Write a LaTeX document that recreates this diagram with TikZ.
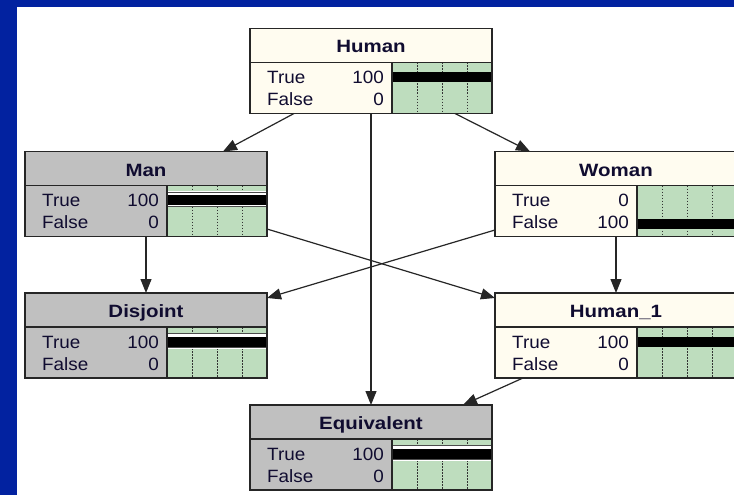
\documentclass[tikz,border=0pt]{standalone}
\usepackage{fontspec}
\setmainfont{Liberation Sans}
\newfontfamily\rowfont[FakeStretch=1.06]{Liberation Sans}
\newfontfamily\headfont[FakeStretch=1.15]{Liberation Sans}
\usetikzlibrary{arrows.meta}

\definecolor{slideblue}{RGB}{2,34,160}
\definecolor{cream}{RGB}{255,252,240}
\definecolor{nodegray}{RGB}{192,192,192}
\definecolor{beliefgreen}{RGB}{190,221,190}
\definecolor{inktext}{RGB}{16,12,48}

\tikzset{
  frame/.style={draw=black!85, line width=1.2pt},
  netbox/.style={frame, rectangle, minimum width=242pt, minimum height=85pt,
    inner sep=0pt, outer sep=0pt, anchor=north west},
  headtext/.style={font=\headfont\bfseries\fontsize{17.8}{20}\selectfont,
    text=inktext, inner sep=0pt, anchor=base},
  rowtext/.style={font=\rowfont\fontsize{17.8}{20}\selectfont,
    text=inktext, inner sep=0pt},
  tick/.style={black!80, line width=0.9pt, dash pattern=on 1.5pt off 1.5pt},
  link/.style={draw=black!85, line width=1.2pt,
    -{Triangle[length=14pt,width=11pt]}}
}

% #1 name, #2 left, #3 top, #4 title, #5 fill, #6 true value,
% #7 false value, #8 bar top offset, #9 framed bar (1) or plain (0)
\newcommand\beliefnode[9]{%
  \node[netbox, fill=#5] (#1) at (#2,#3) {};
  \fill[beliefgreen] ([shift={(142,34)}]#1.north west) rectangle (#1.south east);
  \foreach \tx in {167,192,217}
    \draw[tick] ([shift={(\tx,34)}]#1.north west) -- ([shift={(\tx,85)}]#1.north west);
  \ifnum#9=1
    \fill[white] ([shift={(142,#8-4)}]#1.north west) rectangle ([shift={(242,#8+12)}]#1.north west);
    \draw[black!70, line width=0.8pt] ([shift={(142,#8-3)}]#1.north west) -- ([shift={(242,#8-3)}]#1.north west);
    \draw[black!70, line width=0.8pt] ([shift={(142,#8+11)}]#1.north west) -- ([shift={(242,#8+11)}]#1.north west);
  \fi
  \fill[black] ([shift={(142,#8)}]#1.north west) rectangle ([shift={(242,#8+10)}]#1.north west);
  \draw[frame] ([shift={(0,34)}]#1.north west) -- ([shift={(242,34)}]#1.north west);
  \draw[frame] ([shift={(142,34)}]#1.north west) -- ([shift={(142,85)}]#1.north west);
  \draw[frame] (#1.north west) rectangle (#1.south east);
  \node[headtext] (#1-title) at ([shift={(121,24.5)}]#1.north west) {#4};
  \node[rowtext, anchor=base west] (#1-tl) at ([shift={(17,55)}]#1.north west) {True};
  \node[rowtext, anchor=base east] (#1-tv) at ([shift={(134,55)}]#1.north west) {#6};
  \node[rowtext, anchor=base west] (#1-fl) at ([shift={(17,77)}]#1.north west) {False};
  \node[rowtext, anchor=base east] (#1-fv) at ([shift={(134,77)}]#1.north west) {#7};
}

\begin{document}
\begin{tikzpicture}[x=1pt, y=-1pt]
  \useasboundingbox (0,0) rectangle (734,495);
  \clip (0,0) rectangle (734,495);

  % slide frame
  \fill[slideblue] (0,0) rectangle (734,495);
  \fill[white] (17,7) rectangle (734,495);

  % belief network nodes
  \beliefnode{human}{250}{28.5}{Human}{cream}{100}{0}{44}{0}
  \beliefnode{man}{25}{151.5}{Man}{nodegray}{100}{0}{43.5}{1}
  \beliefnode{woman}{495}{151.5}{Woman}{cream}{0}{100}{67}{0}
  \beliefnode{disjoint}{25}{293}{Disjoint}{nodegray}{100}{0}{43.5}{1}
  \beliefnode{human1}{495}{293}{Human\_1}{cream}{100}{0}{44}{0}
  \beliefnode{equiv}{250}{405}{Equivalent}{nodegray}{100}{0}{43.5}{1}

  % links
  \draw[link] ([shift={(44,0)}]human.south west) -- ([shift={(198,0)}]man.north west);
  \draw[link] ([shift={(205,0)}]human.south west) -- ([shift={(35,0)}]woman.north west);
  \draw[link] (human.south) -- (equiv.north);
  \draw[link] (man.south) -- (disjoint.north);
  \draw[link] (woman.south) -- (human1.north);
  \draw[link] ([shift={(0,77.5)}]man.north east) -- ([shift={(0,5)}]human1.north west);
  \draw[link] ([shift={(0,78.5)}]woman.north west) -- ([shift={(0,5)}]disjoint.north east);
  \draw[link] ([shift={(28,0)}]human1.south west) -- ([shift={(213,0)}]equiv.north west);
\end{tikzpicture}
\end{document}
